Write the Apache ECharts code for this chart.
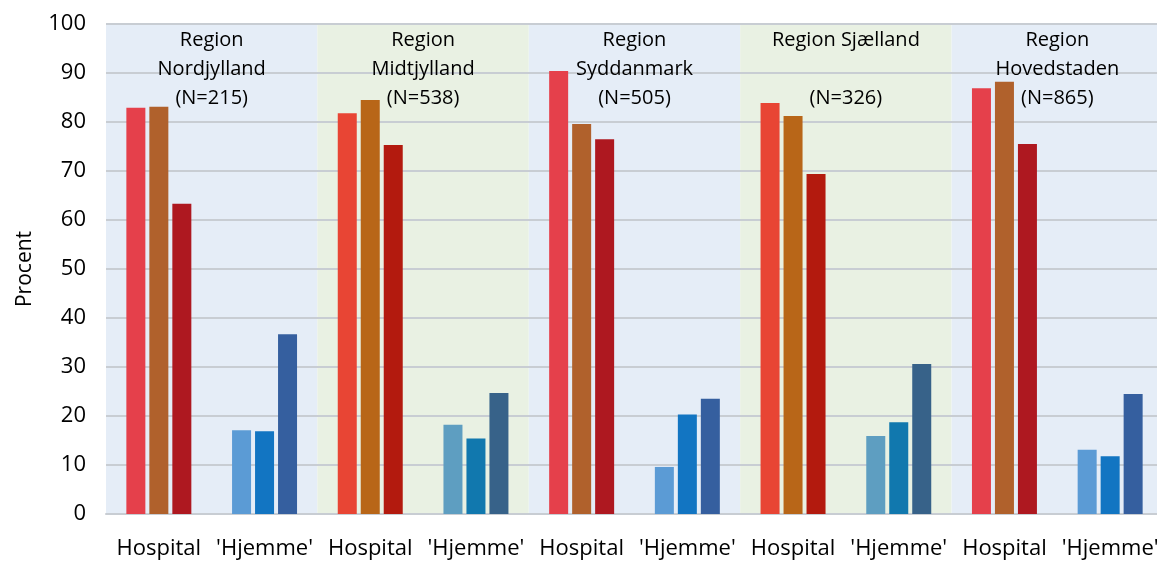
<!DOCTYPE html>
<html>
<head>
<meta charset="utf-8">
<script src="https://cdn.jsdelivr.net/npm/echarts@6/dist/echarts.min.js"></script>
<style>
  html, body { margin: 0; padding: 0; background: #fff; overflow: hidden; }
  #chart { width: 1163px; height: 561px; }
</style>
</head>
<body>
<div id="chart"></div>
<script>
// regioner og grupper
var regions = ['Region\nNordjylland', 'Region\nMidtjylland', 'Region\nSyddanmark', 'Region Sjælland\n', 'Region\nHovedstaden'];
var regionN = [215, 538, 505, 326, 865];
var groups = ['Hospital', "'Hjemme'"];

// tre søjler pr. gruppe (Hospital, 'Hjemme' for hver region efter hinanden)
var bar1 = [82.9, 17.1, 81.8, 18.2, 90.4, 9.6, 83.9, 15.9, 86.9, 13.1];
var bar2 = [83.1, 16.9, 84.5, 15.4, 79.6, 20.3, 81.2, 18.7, 88.2, 11.8];
var bar3 = [63.3, 36.7, 75.3, 24.7, 76.5, 23.5, 69.4, 30.6, 75.5, 24.5];

var yTicks = [0, 100, 10];   // min, max, interval

var fontFam = 'Open Sans';

// farver: to paletter, skiftes pr. region
var palA = { hosp: ['#E5404B', '#B0612C', '#AE1820'], home: ['#5B9BD5', '#1275C2', '#355F9F'] };
var palB = { hosp: ['#E84534', '#B86618', '#B31A0E'], home: ['#5E9EC1', '#1178AE', '#376289'] };
var bgColors = ['#E5EDF7', '#E9F1E3'];

var categories = [];
regions.forEach(function () {
  groups.forEach(function (g) { categories.push(g); });
});

function makeData(vals, k) {
  return vals.map(function (v, i) {
    var r = Math.floor(i / 2);
    var pal = r % 2 === 0 ? palA : palB;
    var c = (i % 2 === 0) ? pal.hosp[k] : pal.home[k];
    return { value: v, itemStyle: { color: c } };
  });
}

var bgData = regions.map(function (r, i) {
  return { value: yTicks[1], itemStyle: { color: bgColors[i % 2] } };
});

var chart = echarts.init(document.getElementById('chart'));
var option = {
  animation: false,
  textStyle: { fontFamily: fontFam },
  grid: { left: 106, right: 0, top: 24, bottom: 47 },
  xAxis: [{
    type: 'category',
    data: categories,
    axisTick: { show: false },
    axisLine: { show: true, lineStyle: { color: '#C8CDD3', width: 2 } },
    axisLabel: { interval: 0, color: '#000', fontSize: 22, fontFamily: fontFam, margin: 24 }
  }, {
    type: 'category',
    data: regions,
    show: false
  }],
  yAxis: {
    type: 'value',
    min: yTicks[0],
    max: yTicks[1],
    interval: yTicks[2],
    name: 'Procent',
    nameLocation: 'middle',
    nameGap: 70,
    nameTextStyle: { color: '#000', fontSize: 21, fontFamily: fontFam },
    axisLine: { show: false },
    axisTick: { show: false },
    axisLabel: { color: '#000', fontSize: 22, fontFamily: fontFam, margin: 20 },
    splitLine: { lineStyle: { color: '#C8CDD3', width: 2 } }
  },
  series: [{
    // baggrund pr. region
    type: 'bar',
    xAxisIndex: 1,
    barWidth: '100%',
    z: -1,
    silent: true,
    data: bgData
  }, {
    type: 'bar',
    barWidth: 19,
    barGap: '21%',
    data: makeData(bar1, 0)
  }, {
    type: 'bar',
    barWidth: 19,
    barGap: '21%',
    data: makeData(bar2, 1)
  }, {
    type: 'bar',
    barWidth: 19,
    barGap: '21%',
    data: makeData(bar3, 2)
  }, {
    // regionsnavne oven på gitterlinjerne
    type: 'bar',
    xAxisIndex: 1,
    barWidth: '100%',
    barGap: '-100%',
    z: 5,
    silent: true,
    itemStyle: { color: 'rgba(0,0,0,0)' },
    data: bgData.map(function (d) { return d.value; }),
    label: {
      show: true,
      position: 'insideTop',
      distance: 2,
      color: '#000',
      fontSize: 20,
      lineHeight: 29,
      fontFamily: fontFam,
      formatter: function (p) {
        return regions[p.dataIndex] + '\n(N=' + regionN[p.dataIndex] + ')';
      }
    }
  }]
};
chart.setOption(option);
</script>
</body>
</html>
